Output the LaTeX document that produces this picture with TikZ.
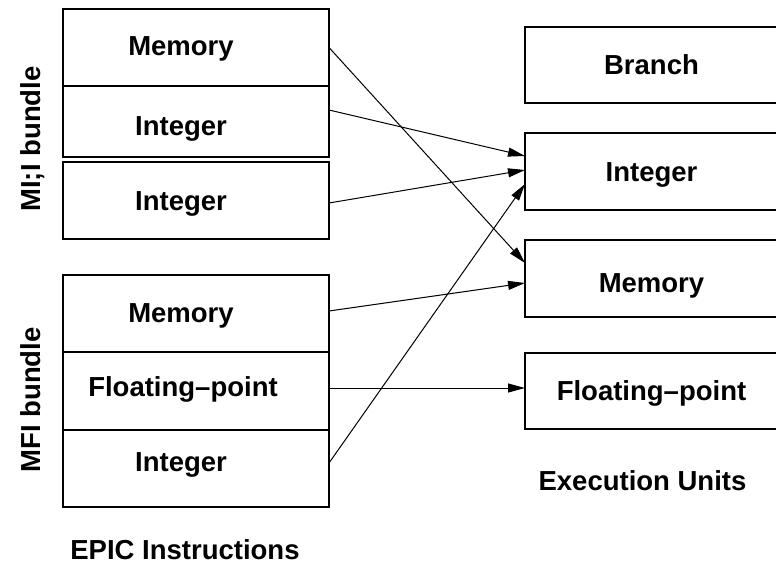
\documentclass[tikz,border=0pt]{standalone}
\usepackage{fontspec}
\setmainfont{Liberation Sans}
\usetikzlibrary{arrows.meta}
\begin{document}
\begin{tikzpicture}[x=1pt,y=-1pt,
  every node/.style={font=\bfseries\fontsize{27.5}{32}\selectfont},
  lbl/.style={text height=19.6pt, text depth=0pt, inner sep=0pt},
  cell/.style={draw, line width=1.8pt, minimum width=266pt, inner sep=0pt, outer sep=0pt},
  unit/.style={draw, line width=1.8pt, minimum width=253pt, inner sep=0pt, outer sep=0pt},
  conn/.style={line width=1pt, -{Triangle[length=17pt,width=9pt]}}]
\useasboundingbox (0,0) rectangle (776,567);
\clip (0,0) rectangle (776,567);
% MI;I bundle
\node[cell, minimum height=77pt, label={[lbl,xshift=-15pt,yshift=1.5pt]center:Memory}] (mA) at (196,47.5) {};
\node[cell, minimum height=71pt, label={[lbl,xshift=-15pt,yshift=-4.5pt]center:Integer}] (iA1) at (196,121.5) {};
\node[cell, minimum height=77pt, label={[lbl,xshift=-15pt,yshift=-0.5pt]center:Integer}] (iA2) at (196,200.5) {};
% MFI bundle
\node[cell, minimum height=77pt, label={[lbl,xshift=-15pt,yshift=0.5pt]center:Memory}] (mB) at (196,313.5) {};
\node[cell, minimum height=78pt, label={[lbl,xshift=-13pt,yshift=4.5pt]center:Floating--point}] (fB) at (196,391) {};
\node[cell, minimum height=77pt, label={[lbl,xshift=-15pt,yshift=7pt]center:Integer}] (iB) at (196,468.5) {};
% Execution units
\node[unit, minimum height=76pt, label={[lbl]center:Branch}] (bU) at (651.5,65) {};
\node[unit, minimum height=77pt, label={[lbl]center:Integer}] (iU) at (651.5,171.5) {};
\node[unit, minimum height=77pt, label={[lbl,yshift=-4.5pt]center:Memory}] (mU) at (651.5,278.5) {};
\node[unit, minimum height=76pt, label={[lbl]center:Floating--point}] (fU) at (651.5,391) {};
% captions
\node[lbl, rotate=90] (milab) at (31,139) {MI;I bundle};
\node[lbl, rotate=90] (mflab) at (31,400) {MFI bundle};
\node[lbl] (epic) at (185,550) {EPIC Instructions};
\node[lbl] (eu) at (642.5,480.5) {Execution Units};
% connectors
\draw[conn] (mA.east) -- ([yshift=15.5pt]mU.west);
\draw[conn] ([yshift=11.5pt]iA1.east) -- ([yshift=15.5pt]iU.west);
\draw[conn] ([yshift=-2.5pt]iA2.east) -- ([yshift=1.5pt]iU.west);
\draw[conn] ([yshift=2.5pt]mB.east) -- ([yshift=-4.5pt]mU.west);
\draw[conn] ([yshift=3pt]fB.east) -- ([yshift=3pt]fU.west);
\draw[conn] ([yshift=5.5pt]iB.east) -- ([yshift=-12.5pt]iU.west);
\end{tikzpicture}
\end{document}
